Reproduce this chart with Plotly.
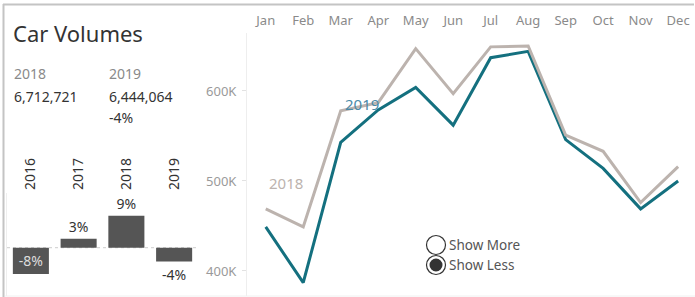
import plotly.graph_objects as go

# ---------------- data ----------------
title_text = "Car Volumes"
months = ["Jan", "Feb", "Mar", "Apr", "May", "Jun", "Jul", "Aug", "Sep", "Oct", "Nov", "Dec"]
vol_2018 = [469000, 449000, 578000, 587000, 647000, 597000, 649000, 650000, 551000, 533000, 476000, 516000]
vol_2019 = [449000, 387000, 543000, 579000, 604000, 562000, 637000, 644000, 546000, 514000, 469000, 500000]
series_names = ["2018", "2019"]
ytick_vals = [400000, 500000, 600000]
ytick_text = ["400K", "500K", "600K"]

growth_years = ["2016", "2017", "2018", "2019"]
growth_pct = [-7.6, 2.6, 9.3, -4.0]

kpi_years = ["2018", "2019"]
kpi_totals = [6712721, 6444064]

toggle_options = ["Show More", "Show Less"]
toggle_selected = 1

# ---------------- helpers (pixel -> paper) ----------------
W, H = 695, 297
def px(x):
    return x / W
def py(y):
    return 1 - y / H

TEAL = "#14707f"
GREY = "#bcb3ae"
FONT = "Noto Sans"

fig = go.Figure()

# ---- growth bar chart (left panel) ----
pos = ["inside" if v < -5 else "outside" for v in growth_pct]
fig.add_trace(go.Bar(
    x=growth_years, y=growth_pct, xaxis="x", yaxis="y",
    marker=dict(color="#555555", line=dict(width=0)),
    texttemplate="%{y:.0f}%", textposition=pos,
    insidetextanchor="middle",
    insidetextfont=dict(color="#dddddd", size=14, family=FONT),
    outsidetextfont=dict(color="#333333", size=14, family=FONT),
    cliponaxis=False, showlegend=False, hoverinfo="skip",
))

# ---- monthly lines (right panel) ----
fig.add_trace(go.Scatter(
    x=months, y=vol_2019, xaxis="x2", yaxis="y2", mode="lines",
    line=dict(color=TEAL, width=3), name=series_names[1], showlegend=False,
))
fig.add_trace(go.Scatter(
    x=months, y=vol_2018, xaxis="x2", yaxis="y2", mode="lines",
    line=dict(color=GREY, width=3), name=series_names[0], showlegend=False,
))

annotations = []
# title
annotations.append(dict(text=title_text, x=px(11), y=py(33), xref="paper", yref="paper",
                        xanchor="left", yanchor="middle", showarrow=False,
                        font=dict(size=22, color="#333333", family=FONT)))
# KPI block
kpi_x = [12, 107]
for i, (yr, tot) in enumerate(zip(kpi_years, kpi_totals)):
    annotations.append(dict(text=yr, x=px(kpi_x[i]), y=py(73), xref="paper", yref="paper",
                            xanchor="left", yanchor="middle", showarrow=False,
                            font=dict(size=14, color="#8a8a8a", family=FONT)))
    annotations.append(dict(text=f"{tot:,}", x=px(kpi_x[i]), y=py(97), xref="paper", yref="paper",
                            xanchor="left", yanchor="middle", showarrow=False,
                            font=dict(size=14, color="#333333", family=FONT)))
chg = (kpi_totals[1] / kpi_totals[0] - 1) * 100
annotations.append(dict(text=f"{chg:.0f}%", x=px(107), y=py(117), xref="paper", yref="paper",
                        xanchor="left", yanchor="middle", showarrow=False,
                        font=dict(size=14, color="#333333", family=FONT)))
# series labels
annotations.append(dict(text=series_names[1], x=px(362), y=py(104), xref="paper", yref="paper",
                        xanchor="center", yanchor="middle", showarrow=False,
                        font=dict(size=15, color="#4a8aa8", family=FONT)))
annotations.append(dict(text=series_names[0], x=px(286), y=py(183), xref="paper", yref="paper",
                        xanchor="center", yanchor="middle", showarrow=False,
                        font=dict(size=15, color=GREY, family=FONT)))
# toggle texts
for i, t in enumerate(toggle_options):
    annotations.append(dict(text=t, x=px(447), y=py(245 + 20 * i), xref="paper", yref="paper",
                            xanchor="left", yanchor="middle", showarrow=False,
                            font=dict(size=13.5, color="#555555", family=FONT)))

shapes = []
# frame lines
shapes.append(dict(type="line", xref="paper", yref="paper", x0=px(3), x1=px(694), y0=py(4.5), y1=py(4.5),
                   line=dict(color="#c4c4c4", width=2)))
shapes.append(dict(type="line", xref="paper", yref="paper", x0=px(3.5), x1=px(3.5), y0=py(4), y1=py(297),
                   line=dict(color="#c4c4c4", width=2)))
shapes.append(dict(type="line", xref="paper", yref="paper", x0=px(5), x1=px(695), y0=py(296), y1=py(296),
                   line=dict(color="#f0f0f0", width=1)))
# dashed zero line in bar chart
shapes.append(dict(type="line", xref="x domain", yref="y", x0=0, x1=1, y0=0, y1=0,
                   line=dict(color="#cccccc", width=1, dash="dot"), layer="below"))
# radio buttons
for i in range(len(toggle_options)):
    cx, cy, r = 436, 245 + 20 * i, 9.5
    shapes.append(dict(type="circle", xref="paper", yref="paper",
                       x0=px(cx - r), x1=px(cx + r), y0=py(cy + r), y1=py(cy - r),
                       line=dict(color="#333333", width=1.2), fillcolor="white"))
    if i == toggle_selected:
        r2 = 6.5
        shapes.append(dict(type="circle", xref="paper", yref="paper",
                           x0=px(cx - r2), x1=px(cx + r2), y0=py(cy + r2), y1=py(cy - r2),
                           line=dict(width=0), fillcolor="#333333"))

fig.update_layout(
    width=W, height=H, margin=dict(l=0, r=0, t=0, b=0),
    paper_bgcolor="white", plot_bgcolor="white",
    font=dict(family=FONT),
    bargap=0.245,
    xaxis=dict(domain=[px(7), px(198)], anchor="y", side="top", tickangle=-90,
               showline=False, showgrid=False, ticks="", ticklabelstandoff=2,
               tickfont=dict(size=14, color="#333333", family=FONT), fixedrange=True),
    yaxis=dict(domain=[py(296), py(193)], anchor="x", range=[-14.0, 15.86],
               showticklabels=False, showgrid=False, zeroline=False,
               showline=True, linecolor="#eeeeee", linewidth=1, mirror=False, fixedrange=True),
    xaxis2=dict(domain=[px(247), 1], anchor="y2", side="top", range=[-0.5, 11.45],
                showline=False, showgrid=False, ticks="", ticklabelstandoff=4,
                tickfont=dict(size=13, color="#8a8a8a", family=FONT), fixedrange=True),
    yaxis2=dict(domain=[py(296), py(33)], anchor="x2", range=[372200, 664400],
                tickvals=ytick_vals, ticktext=ytick_text,
                ticks="outside", ticklen=4, tickcolor="#e2e2e2",
                showline=True, linecolor="#eeeeee", linewidth=1,
                showgrid=False, zeroline=False, ticklabelstandoff=3,
                tickfont=dict(size=13, color="#9a9a9a", family=FONT), fixedrange=True),
    annotations=annotations, shapes=shapes,
)

fig.write_html("out.html", config={"displayModeBar": False},
               post_script="document.body.style.margin='0';document.body.style.overflow='hidden';")
